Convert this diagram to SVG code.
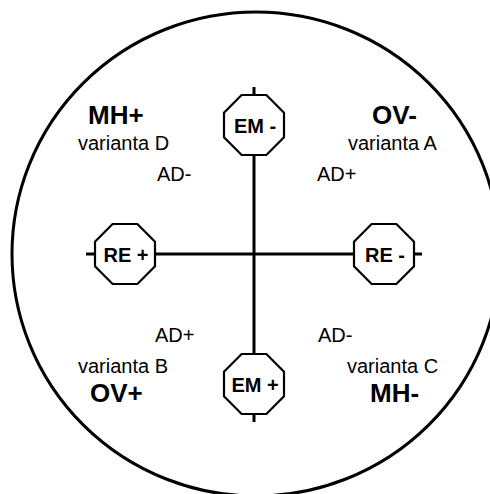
<svg xmlns="http://www.w3.org/2000/svg" width="490" height="494" viewBox="0 0 490 494">
  <style>
    .line { stroke: #000; stroke-width: 3; fill: none; }
    .oct { fill: #fff; stroke: #000; stroke-width: 2.2; }
    .olab { font-family: "Liberation Sans", Arial, sans-serif; font-weight: bold; font-size: 20px; text-anchor: middle; }
    .big { font-family: "Liberation Sans", Arial, sans-serif; font-weight: bold; font-size: 26px; }
    .txt { font-family: "Liberation Sans", Arial, sans-serif; font-size: 20px; }
  </style>
  <defs>
    <polygon id="octagon" class="oct" points="-12.4,-30 12.4,-30 30,-12.4 30,12.4 12.4,30 -12.4,30 -30,12.4 -30,-12.4"/>
  </defs>
  <rect width="490" height="494" fill="#fff"/>
  <ellipse cx="256" cy="254" rx="244" ry="242" fill="none" stroke="#000" stroke-width="3"/>

  <g id="connectors">
    <line class="line" x1="254" y1="87" x2="254" y2="422"/>
    <line class="line" x1="86" y1="254" x2="422" y2="254"/>
  </g>

  <g id="em-minus">
    <use href="#octagon" x="254" y="125"/>
    <text class="olab" x="255" y="133">EM -</text>
  </g>
  <g id="em-plus">
    <use href="#octagon" x="254" y="384"/>
    <text class="olab" x="255" y="392">EM +</text>
  </g>
  <g id="re-plus">
    <use href="#octagon" x="125" y="254"/>
    <text class="olab" x="126" y="262">RE +</text>
  </g>
  <g id="re-minus">
    <use href="#octagon" x="384" y="254"/>
    <text class="olab" x="385" y="262">RE -</text>
  </g>

  <g id="quadrant-d">
    <text class="big" x="88" y="124">MH+</text>
    <text class="txt" x="78" y="150">varianta D</text>
    <text class="txt" x="157" y="181">AD-</text>
  </g>
  <g id="quadrant-a">
    <text class="big" x="372" y="124">OV-</text>
    <text class="txt" x="348" y="150">varianta A</text>
    <text class="txt" x="317" y="181">AD+</text>
  </g>
  <g id="quadrant-b">
    <text class="txt" x="155" y="342">AD+</text>
    <text class="txt" x="78" y="373">varianta B</text>
    <text class="big" x="90" y="402">OV+</text>
  </g>
  <g id="quadrant-c">
    <text class="txt" x="318" y="342">AD-</text>
    <text class="txt" x="347" y="373">varianta C</text>
    <text class="big" x="370" y="402">MH-</text>
  </g>
</svg>
